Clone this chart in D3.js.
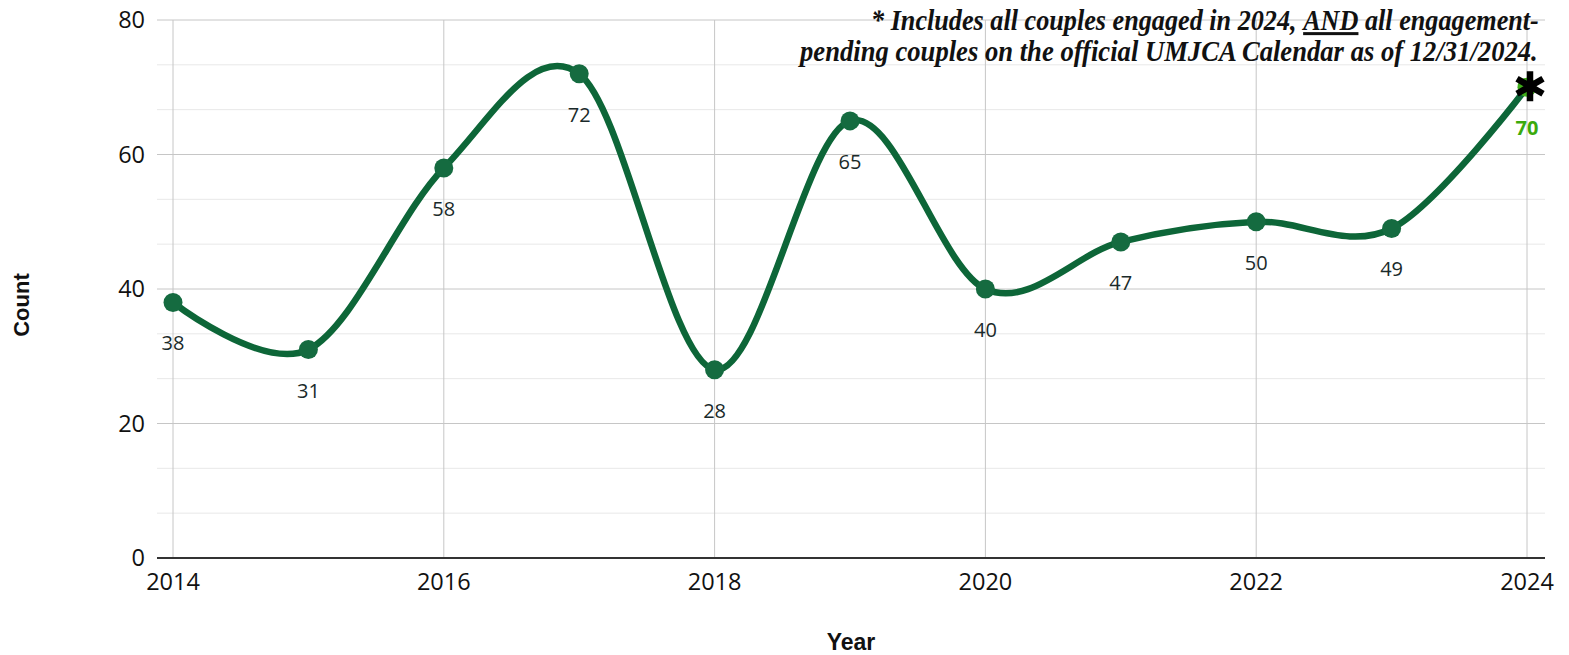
<!DOCTYPE html>
<html>
<head>
<meta charset="utf-8">
<script src="https://cdn.jsdelivr.net/npm/d3@7"></script>
<style>
  html, body { margin: 0; padding: 0; background: #fff; }
  svg { display: block; }
</style>
</head>
<body>
<svg id="chart" width="1569" height="655"></svg>
<script>
const years = [2014, 2015, 2016, 2017, 2018, 2019, 2020, 2021, 2022, 2023, 2024];
const counts = [38, 31, 58, 72, 28, 65, 40, 47, 50, 49, 70];
const xTickValues = [2014, 2016, 2018, 2020, 2022, 2024];
const yTickValues = [0, 20, 40, 60, 80];
const yMinorValues = [20/3, 40/3, 80/3, 100/3, 140/3, 160/3, 200/3, 220/3];
const noteLine1 = ["* Includes all couples engaged in 2024, ", "AND", " all engagement-"];
const noteLine2 = "pending couples on the official UMJCA Calendar as of 12/31/2024.";

const svg = d3.select("#chart");
const x = d3.scaleLinear().domain([2014, 2024]).range([173, 1527]);
const y = d3.scaleLinear().domain([0, 80]).range([558, 20]);
const gridLeft = 157, gridRight = 1545;

// minor horizontal grid
svg.append("g").selectAll("line").data(yMinorValues).join("line")
  .attr("x1", gridLeft).attr("x2", gridRight)
  .attr("y1", d => y(d)).attr("y2", d => y(d))
  .attr("stroke", "#e8e8e8").attr("stroke-width", 1);

// major horizontal grid
svg.append("g").selectAll("line").data(yTickValues.filter(d => d > 0)).join("line")
  .attr("x1", gridLeft).attr("x2", gridRight)
  .attr("y1", d => y(d)).attr("y2", d => y(d))
  .attr("stroke", "#c6c6c6").attr("stroke-width", 1);

// vertical grid
svg.append("g").selectAll("line").data(xTickValues).join("line")
  .attr("x1", d => x(d)).attr("x2", d => x(d))
  .attr("y1", y(80)).attr("y2", y(0))
  .attr("stroke", "#c6c6c6").attr("stroke-width", 1);

// baseline
svg.append("line").attr("x1", gridLeft).attr("x2", gridRight)
  .attr("y1", y(0)).attr("y2", y(0))
  .attr("stroke", "#333").attr("stroke-width", 2);

// y tick labels
svg.append("g").selectAll("text").data(yTickValues).join("text")
  .attr("x", 145).attr("y", d => y(d) + 8)
  .attr("text-anchor", "end")
  .attr("font-family", "'Open Sans', 'Noto Sans', sans-serif")
  .attr("font-size", 23.5).attr("fill", "#111")
  .text(d => d);

// x tick labels
svg.append("g").selectAll("text").data(xTickValues).join("text")
  .attr("x", d => x(d)).attr("y", 590)
  .attr("text-anchor", "middle")
  .attr("font-family", "'Open Sans', 'Noto Sans', sans-serif")
  .attr("font-size", 23.5).attr("fill", "#111")
  .text(d => d);

// axis titles
svg.append("text").attr("transform", "translate(29,305) rotate(-90)")
  .attr("text-anchor", "middle")
  .attr("font-family", "'Liberation Sans', Arial, sans-serif")
  .attr("font-weight", "bold").attr("font-size", 22).attr("fill", "#111")
  .text("Count");
svg.append("text").attr("x", 851).attr("y", 650)
  .attr("text-anchor", "middle")
  .attr("font-family", "'Liberation Sans', Arial, sans-serif")
  .attr("font-weight", "bold").attr("font-size", 23).attr("fill", "#111")
  .text("Year");

// line
const data = years.map((yr, i) => ({ yr, v: counts[i] }));
const lineGen = d3.line().x(d => x(d.yr)).y(d => y(d.v)).curve(d3.curveCardinal.tension(0));
svg.append("path").datum(data)
  .attr("d", lineGen)
  .attr("fill", "none").attr("stroke", "#0d6638").attr("stroke-width", 6.5)
  .attr("stroke-linejoin", "round").attr("stroke-linecap", "round");

// points
svg.append("g").selectAll("circle").data(data).join("circle")
  .attr("cx", d => x(d.yr)).attr("cy", d => y(d.v)).attr("r", 9.5)
  .attr("fill", (d, i) => i === data.length - 1 ? "#3fae1a" : "#156b40");

// labels
svg.append("g").selectAll("text").data(data).join("text")
  .attr("x", d => x(d.yr)).attr("y", d => y(d.v) + 48)
  .attr("text-anchor", "middle")
  .attr("font-family", "'Open Sans', 'Noto Sans', sans-serif")
  .attr("font-size", 20)
  .attr("font-weight", (d, i) => i === data.length - 1 ? "bold" : "normal")
  .attr("fill", (d, i) => i === data.length - 1 ? "#3aaa0c" : "#1a2a2a")
  .text(d => d.v);

// asterisk marker at last point
const last = data[data.length - 1];
const ast = svg.append("g").attr("transform", `translate(${x(last.yr) + 3},${y(last.v) - 1})`);
[90, 30, 150].forEach(a => {
  const r = 15, rad = a * Math.PI / 180;
  ast.append("line")
    .attr("x1", -r * Math.cos(rad)).attr("y1", -r * Math.sin(rad))
    .attr("x2", r * Math.cos(rad)).attr("y2", r * Math.sin(rad))
    .attr("stroke", "#000").attr("stroke-width", 6.5);
});

// note text
function noteText(yBase, parts, targetLeft, right) {
  const t = svg.append("text")
    .attr("font-family", "'Liberation Serif', 'Times New Roman', serif")
    .attr("font-style", "italic").attr("font-weight", "bold")
    .attr("font-size", 30).attr("fill", "#111")
    .attr("x", 0).attr("y", 0);
  parts.forEach(p => {
    const ts = t.append("tspan").text(p);
    if (p === "AND") ts.attr("text-decoration", "underline");
  });
  const w = t.node().getComputedTextLength();
  const s = (right - targetLeft) / w;
  t.attr("transform", `translate(${targetLeft},${yBase}) scale(${s},1)`);
}
noteText(30, noteLine1, 871, 1538);
noteText(61, [noteLine2], 800, 1538);
</script>
</body>
</html>
